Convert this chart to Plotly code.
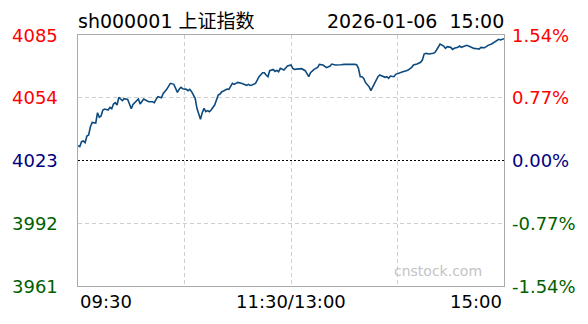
import plotly.graph_objects as go

# ---- data ----
PREV_CLOSE = 4023.4
minutes = [0, 1, 2, 3, 4, 5, 6, 7, 8, 10, 11, 12, 13, 14, 15, 17, 18, 19, 20, 21, 22, 23, 24, 25, 26, 27, 28, 29, 30,
           31, 33, 34, 35, 36, 37, 39, 40, 42, 43, 44, 45, 47, 48, 50, 51, 52, 54, 55, 56, 57, 58, 59, 61,
           62, 63, 64, 66, 67, 68, 69, 70, 71, 72, 73, 74, 75, 77, 78, 79, 80, 81, 82, 84, 85, 86, 87, 88, 89,
           90, 92, 93, 95, 96, 97, 98, 100, 101, 102, 104, 105, 106, 107, 108, 110, 111, 112, 113, 114, 116,
           117, 118, 120, 121,
           122, 124, 126, 128, 129, 130, 131, 133, 135, 136, 138, 139, 140, 142, 143, 145, 146, 148, 150, 152,
           154, 156, 157, 158, 159, 160, 161, 162, 164, 165, 166, 167, 169, 170, 171, 173, 174, 175, 176, 178,
           179, 181,
           183, 185, 186, 188, 189, 191, 193, 194, 195, 196, 198, 200, 201, 202, 203, 204, 206, 207, 208, 210,
           211, 212, 214, 215, 216, 218, 219, 221, 223, 225, 226, 227, 229, 230, 231, 233, 234, 236, 237, 238, 240]
prices = [4030.72, 4030.23, 4032.69, 4033.03, 4032.20, 4035.49, 4035.99, 4040.10, 4042.24, 4041.91, 4047.01,
          4044.71, 4045.37, 4048.33, 4048.82, 4048.33, 4049.64, 4048.98, 4051.29, 4051.95, 4050.79, 4054.58,
          4053.76, 4052.93, 4053.92, 4053.59, 4053.59, 4051.29, 4048.98,
          4051.12, 4052.93, 4053.76, 4051.29, 4052.61, 4053.76, 4052.77, 4052.44, 4052.44, 4051.95, 4053.59,
          4054.91, 4054.41, 4056.55, 4058.53, 4060.17, 4061.49, 4061.00, 4058.53, 4057.05, 4058.53, 4059.52,
          4058.86, 4058.53,
          4057.87, 4058.53, 4057.38, 4054.09, 4049.15, 4046.68, 4043.72, 4047.01, 4049.15, 4047.50, 4048.00,
          4047.50, 4048.33, 4050.79, 4053.26, 4055.73, 4056.22, 4057.38, 4057.71, 4058.69, 4058.53, 4060.17,
          4061.49, 4061.00, 4061.49,
          4061.98, 4061.49, 4061.16, 4060.50, 4061.00, 4060.50, 4060.67, 4061.49, 4063.13, 4064.78, 4066.75,
          4066.75, 4065.60, 4064.78, 4067.74, 4068.40, 4067.41, 4067.91, 4067.25, 4068.89, 4068.07,
          4069.39, 4070.05, 4070.54, 4068.89,
          4068.40, 4068.40, 4068.73, 4067.74, 4066.43, 4064.78, 4066.75, 4068.40, 4069.39, 4070.87, 4070.54,
          4070.05, 4069.22, 4070.05, 4071.03, 4070.54, 4070.70, 4070.70, 4070.87, 4070.70,
          4070.87, 4070.87, 4070.70, 4068.89, 4064.78, 4064.78, 4063.96, 4061.82, 4059.84, 4057.87, 4059.52,
          4061.82, 4064.78, 4065.60, 4065.11, 4064.45, 4064.78, 4063.96, 4065.11, 4064.78,
          4065.93, 4066.75,
          4067.25, 4067.74, 4068.07, 4069.39, 4070.54, 4071.03, 4071.86, 4073.01, 4075.97, 4076.30, 4075.97,
          4076.30, 4076.63, 4077.94, 4079.59, 4080.90, 4079.92, 4078.77, 4079.59, 4079.26,
          4078.27, 4078.77, 4079.26, 4079.92, 4079.26, 4080.08, 4080.25, 4079.59, 4078.77, 4078.60, 4078.44,
          4079.26, 4079.09, 4079.59, 4080.25, 4080.90, 4081.56, 4082.88, 4083.21, 4082.88, 4083.54]

pct_levels = [1.54, 0.77, 0.0, -0.77, -1.54]
price_labels = ["4085", "4054", "4023", "3992", "3961"]
pct_labels = ["1.54%", "0.77%", "0.00%", "-0.77%", "-1.54%"]
label_colors = ["#ff0000", "#ff0000", "#000080", "#005f00", "#005f00"]
time_ticks = [0, 60, 120, 180, 240]
time_labels = ["09:30", "11:30/13:00", "15:00"]
time_label_pos = [0, 120, 240]
title_left = "sh000001 上证指数"
title_right = "2026-01-06  15:00"
watermark = "cnstock.com"

levels = [PREV_CLOSE * (1 + p / 100) for p in pct_levels]
FONT = "DejaVu Sans, Noto Sans CJK SC, sans-serif"

fig = go.Figure()
fig.add_trace(go.Scatter(x=minutes, y=prices, mode="lines",
                         line=dict(color="#0d4a7e", width=1.6), hoverinfo="skip"))

grid_kw = dict(showgrid=True, gridcolor="#cfcfcf", griddash="4px,3px", gridwidth=1)
fig.update_xaxes(range=[0, 240], tickvals=time_ticks[1:-1], showticklabels=False, ticks="",
                 showline=True, mirror=True, linecolor="#aaaaaa", linewidth=1, zeroline=False, **grid_kw)
fig.update_yaxes(range=[levels[-1], levels[0]], tickvals=[levels[1], levels[3]], showticklabels=False,
                 ticks="", showline=True, mirror=True, linecolor="#aaaaaa", linewidth=1, zeroline=False,
                 **grid_kw)

fig.add_shape(type="line", xref="paper", x0=0, x1=1, yref="y", y0=PREV_CLOSE, y1=PREV_CLOSE,
              line=dict(color="#000000", width=1, dash="2px,2px"))

ann = []
for lv, pl, tl, c in zip(levels, price_labels, pct_labels, label_colors):
    ann.append(dict(xref="paper", x=(10 - 78) / 426, xanchor="left", yref="y", y=lv, yanchor="middle",
                    text=pl, showarrow=False, font=dict(family=FONT, size=18, color=c)))
    ann.append(dict(xref="paper", x=(510 - 78) / 426, xanchor="left", yref="y", y=lv, yanchor="middle",
                    text=tl, showarrow=False, font=dict(family=FONT, size=18, color=c)))
for pos, tl, xa in zip(time_label_pos, time_labels, ["left", "center", "right"]):
    ann.append(dict(xref="x", x=pos, xanchor=xa, yref="paper", y=0, yanchor="top", yshift=-3,
                    text=tl, showarrow=False, font=dict(family=FONT, size=18, color="#000000")))
ann.append(dict(xref="paper", x=0, xanchor="left", yref="paper", y=1, yanchor="bottom", yshift=1, xshift=-2,
                text=title_left, showarrow=False, font=dict(family=FONT, size=19, color="#000000")))
ann.append(dict(xref="paper", x=1, xanchor="right", yref="paper", y=1, yanchor="bottom", yshift=1, xshift=2,
                text=title_right, showarrow=False, font=dict(family=FONT, size=19, color="#000000")))
ann.append(dict(xref="paper", x=(484 - 78) / 426, xanchor="right", yref="paper", y=(286 - 271) / 251,
                yanchor="middle", text=watermark, showarrow=False,
                font=dict(family=FONT, size=14, color="#c4c4c4")))

fig.update_layout(width=588, height=324, margin=dict(l=78, r=84, t=35, b=38),
                  paper_bgcolor="white", plot_bgcolor="white", showlegend=False,
                  annotations=ann, hovermode=False)
fig.write_html("out.html")
